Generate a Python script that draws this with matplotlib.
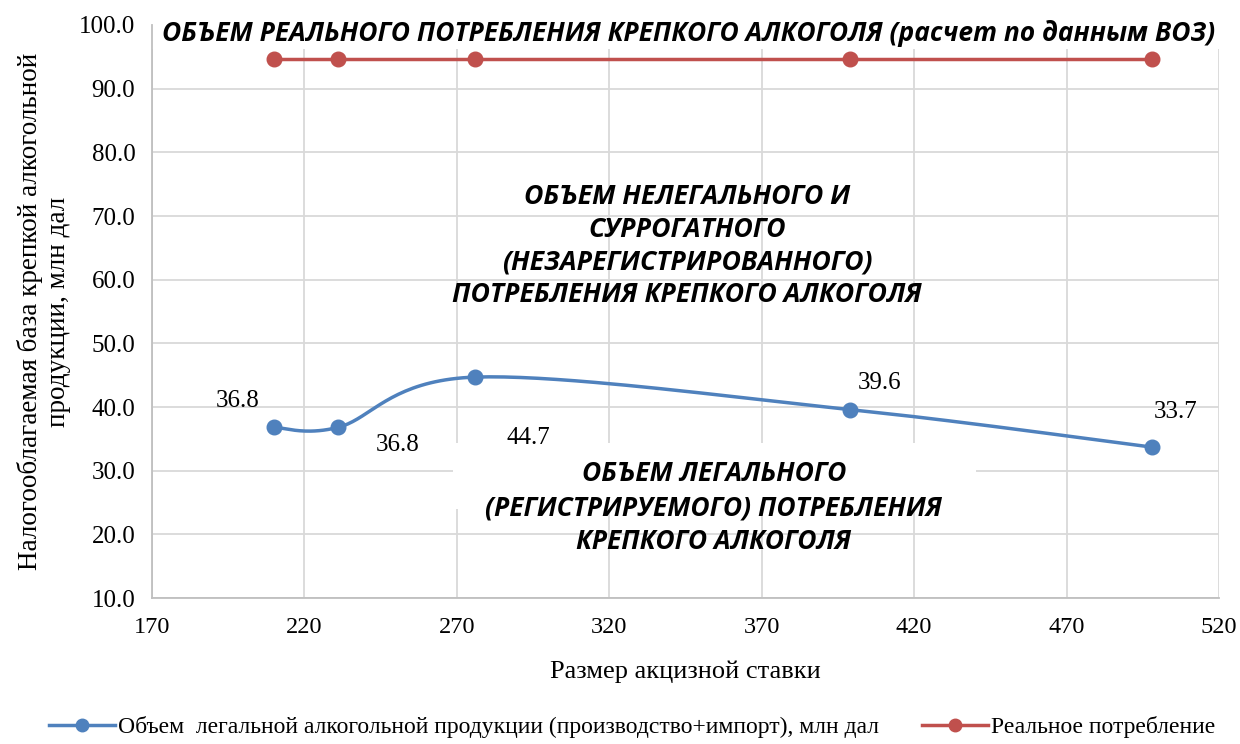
import numpy as np
import matplotlib.pyplot as plt
from matplotlib.patches import Rectangle

# Data
excise_rate = [210, 231, 276, 399, 498]
legal_volume = [36.8, 36.8, 44.7, 39.6, 33.7]
real_consumption = [94.7, 94.7, 94.7, 94.7, 94.7]

x_ticks = [170, 220, 270, 320, 370, 420, 470, 520]
y_ticks = [10, 20, 30, 40, 50, 60, 70, 80, 90, 100]

legal_label = 'Объем  легальной алкогольной продукции (производство+импорт), млн дал'
real_label = 'Реальное потребление'
title_text = 'ОБЪЕМ РЕАЛЬНОГО ПОТРЕБЛЕНИЯ КРЕПКОГО АЛКОГОЛЯ (расчет по данным ВОЗ)'
illegal_text = 'ОБЪЕМ НЕЛЕГАЛЬНОГО И\nСУРРОГАТНОГО\n(НЕЗАРЕГИСТРИРОВАННОГО)\nПОТРЕБЛЕНИЯ КРЕПКОГО АЛКОГОЛЯ'
legal_text = 'ОБЪЕМ ЛЕГАЛЬНОГО\n(РЕГИСТРИРУЕМОГО) ПОТРЕБЛЕНИЯ\nКРЕПКОГО АЛКОГОЛЯ'

# label offsets (points) for data labels
label_offsets = [(-26, 19), (43, -13), (38, -44), (21, 19), (17, 25)]

BLUE = '#4F81BD'
RED = '#C0504D'
SERIF = 'Liberation Serif'
SANS = 'Open Sans'


def excel_smooth(xs, ys, n=40):
    # Catmull-Rom style bezier smoothing like Excel's smoothed line
    pts = np.column_stack([xs, ys]).astype(float)
    out = []
    for i in range(len(pts) - 1):
        p0 = pts[max(i - 1, 0)]
        p1 = pts[i]
        p2 = pts[i + 1]
        p3 = pts[min(i + 2, len(pts) - 1)]
        c1 = p1 + (p2 - p0) / 6
        c2 = p2 - (p3 - p1) / 6
        t = np.linspace(0, 1, n)[:, None]
        seg = ((1 - t) ** 3) * p1 + 3 * ((1 - t) ** 2) * t * c1 + 3 * (1 - t) * t ** 2 * c2 + t ** 3 * p2
        out.append(seg if i == 0 else seg[1:])
    out = np.vstack(out)
    return out[:, 0], out[:, 1]


fig = plt.figure(figsize=(12.4, 7.44), dpi=100)
ax = fig.add_axes([0.1226, 0.1962, 0.8605, 0.7702])

ax.set_xlim(170, 520)
ax.set_ylim(10, 100)
ax.set_xticks(x_ticks)
ax.set_yticks(y_ticks)
ax.set_xticklabels([str(v) for v in x_ticks], fontfamily=SERIF, fontsize=17.5)
ax.set_yticklabels([f'{v:.1f}' for v in y_ticks], fontfamily=SERIF, fontsize=18)
ax.tick_params(axis='x', length=0, pad=14)
ax.tick_params(axis='y', length=0, pad=12)
ax.grid(True, color='#D9D9D9', linewidth=1.3, zorder=0)
ax.set_axisbelow(True)
for side in ['top', 'right']:
    ax.spines[side].set_visible(False)
for side in ['left', 'bottom']:
    ax.spines[side].set_color('#BFBFBF')
    ax.spines[side].set_linewidth(1.3)

# white boxes behind the text blocks
ax.add_patch(Rectangle((170, 96.2), 360, 6, facecolor='white', edgecolor='none',
                       zorder=1, clip_on=False))
ax.add_patch(Rectangle((268.8, 24.0), 171.6, 10.4, facecolor='white', edgecolor='none', zorder=1))

sx, sy = excel_smooth(excise_rate, legal_volume)
ax.plot(sx, sy, color=BLUE, linewidth=2.5, zorder=3)
ax.plot(excise_rate, legal_volume, 'o', color=BLUE, markersize=10.5, zorder=4)
ax.plot(excise_rate, real_consumption, 'o-', color=RED, linewidth=2.5, markersize=10.5, zorder=4)

# legend proxies
ax.plot([], [], 'o-', color=BLUE, linewidth=2.5, markersize=9, label=legal_label)
ax.plot([], [], 'o-', color=RED, linewidth=2.5, markersize=9, label=real_label)

for xv, yv, off in zip(excise_rate, legal_volume, label_offsets):
    ax.annotate(f'{yv:.1f}', (xv, yv), xytext=off, textcoords='offset points',
                ha='center', va='center', fontfamily=SERIF, fontsize=18, zorder=5)

ax.text(346, 98.6, title_text, ha='center', va='center', fontfamily=SANS,
        fontweight='bold', fontstyle='italic', fontsize=19, zorder=5)
ax.text(345.5, 65.3, illegal_text, ha='center', va='center', fontfamily=SANS,
        fontweight='bold', fontstyle='italic', fontsize=19.2, linespacing=1.33, zorder=5)
ax.text(354.3, 24.2, legal_text, ha='center', va='center', fontfamily=SANS,
        fontweight='bold', fontstyle='italic', fontsize=19, linespacing=1.33, zorder=5)

ax.set_xlabel('Размер акцизной ставки', fontfamily=SERIF, fontsize=19, labelpad=16)
ax.set_ylabel('Налогооблагаемая база крепкой алкогольной\nпродукции, млн дал',
              fontfamily=SERIF, fontsize=19.5, labelpad=6, linespacing=1.15)

ax.legend(loc='center', bbox_to_anchor=(0.45, -0.225), ncol=2, frameon=False,
          prop={'family': SERIF, 'size': 17}, handlelength=2.8, handletextpad=0.15,
          columnspacing=1.8)

fig.savefig('out.png', dpi=100)
